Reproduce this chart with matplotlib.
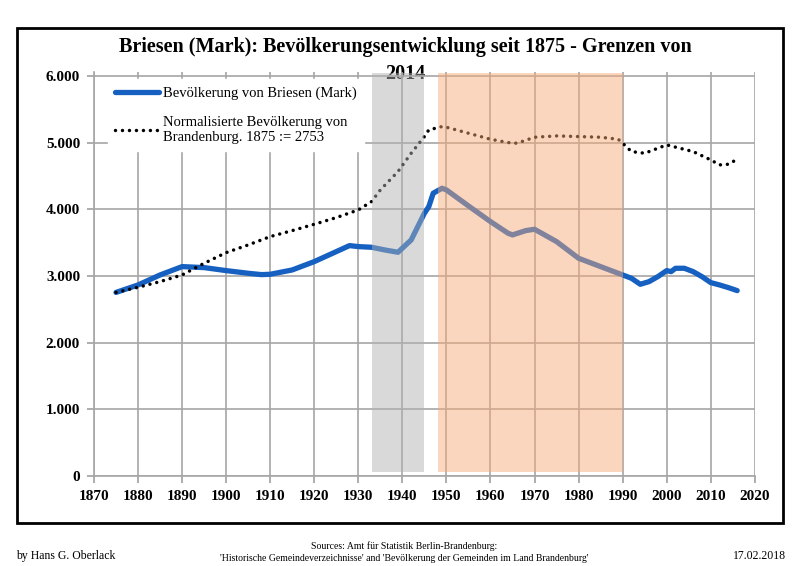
import matplotlib
matplotlib.use('Agg')
import matplotlib.pyplot as plt
from matplotlib.patches import Rectangle

plt.rcParams['font.family'] = ['Liberation Serif', 'DejaVu Serif']

# population of Briesen (Mark)
years_briesen = [1875, 1880, 1885, 1890, 1895, 1900, 1905, 1908, 1910, 1915, 1920, 1925,
                 1928, 1930, 1933, 1936, 1939, 1942, 1945, 1946, 1947, 1949, 1950, 1955,
                 1960, 1964, 1965, 1968, 1970, 1975, 1980, 1985, 1990, 1992, 1994, 1996,
                 1998, 2000, 2001, 2002, 2004, 2006, 2008, 2010, 2012, 2014, 2016]
pop_briesen = [2753, 2865, 3015, 3140, 3125, 3080, 3040, 3020, 3025, 3090, 3215, 3365,
               3455, 3440, 3430, 3390, 3355, 3540, 3940, 4040, 4240, 4315, 4290, 4050,
               3815, 3640, 3615, 3680, 3700, 3515, 3265, 3140, 3015, 2965, 2875, 2915,
               2990, 3080, 3065, 3115, 3115, 3065, 2990, 2900, 2865, 2825, 2780]

# normalised population of Brandenburg (1875 := 2753)
years_bb = [1875, 1880, 1885, 1890, 1895, 1900, 1905, 1910, 1915, 1920, 1925, 1930,
            1933, 1935, 1939, 1942, 1945, 1946, 1949, 1950, 1955, 1960, 1964, 1966,
            1970, 1975, 1980, 1985, 1989, 1990, 1992, 1995, 1997, 2000, 2003, 2006,
            2010, 2012, 2014, 2016]
pop_bb = [2753, 2830, 2915, 3015, 3190, 3350, 3465, 3590, 3680, 3775, 3875, 3990,
          4115, 4290, 4565, 4840, 5090, 5190, 5240, 5230, 5140, 5050, 5000, 4990,
          5080, 5100, 5090, 5080, 5050, 4990, 4865, 4840, 4890, 4965, 4915, 4865,
          4740, 4665, 4675, 4750]

yticks = [0, 1000, 2000, 3000, 4000, 5000, 6000]
ytick_labels = ['0', '1.000', '2.000', '3.000', '4.000', '5.000', '6.000']
xticks = list(range(1870, 2021, 10))

fig = plt.figure(figsize=(8, 5.66), dpi=100)
ax = fig.add_axes([0.1175, 0.159, 0.826, 0.714])
ax.patch.set_visible(False)

ax.plot(years_briesen, pop_briesen, color='#1560c0', lw=3.8,
        solid_capstyle='round', zorder=2, label='Bevölkerung von Briesen (Mark)')
ax.plot(years_bb, pop_bb, color='black', lw=2.5, linestyle=(0, (0.01, 2.0)),
        dash_capstyle='round', zorder=2,
        label='Normalisierte Bevölkerung von\nBrandenburg. 1875 := 2753')

# shaded periods drawn over the lines
ax.axvspan(1933, 1945, ymin=0.01, ymax=0.997, color='#b1b1b1', alpha=0.48,
           lw=0, zorder=3)
ax.axvspan(1948, 1990, ymin=0.01, ymax=0.997, color='#f8ab77', alpha=0.48,
           lw=0, zorder=3)

ax.set_xlim(1870, 2020)
ax.set_ylim(0, 6060)
ax.set_xticks(xticks)
ax.set_xticklabels([str(x) for x in xticks], fontsize=11, fontweight='bold')
ax.set_yticks(yticks)
ax.set_yticklabels(ytick_labels, fontsize=11, fontweight='bold')
ax.tick_params(length=5, color='#a0a0a0', width=1.2, pad=5)
ax.grid(True, color='#a6a6a6', lw=1.2)
ax.set_axisbelow(True)
for side in ['top', 'right']:
    ax.spines[side].set_visible(False)
for side in ['left', 'bottom']:
    ax.spines[side].set_color('#a6a6a6')
    ax.spines[side].set_linewidth(1.2)

leg = ax.legend(loc='upper left', bbox_to_anchor=(0.01, 1.0), fontsize=10.5,
                frameon=True, fancybox=False, edgecolor='white', framealpha=1,
                handlelength=3.0, handletextpad=0.3, labelspacing=1.1,
                borderpad=0.5)
leg.set_zorder(5)

fig.text(0.507, 0.893, 'Briesen (Mark): Bevölkerungsentwicklung seit 1875 - Grenzen von\n2014',
         ha='center', va='center', fontsize=14.5, fontweight='bold',
         linespacing=1.45, zorder=-1)

fig.patches.append(Rectangle((0.021, 0.076), 0.958, 0.874, transform=fig.transFigure,
                             fill=False, edgecolor='black', lw=2))

fig.text(0.02, 0.018, 'by Hans G. Oberlack', ha='left', va='center', fontsize=8.5)
fig.text(0.505, 0.024, "Sources: Amt für Statistik Berlin-Brandenburg:\n"
         "'Historische Gemeindeverzeichnisse' and 'Bevölkerung der Gemeinden im Land Brandenburg'",
         ha='center', va='center', fontsize=7, linespacing=1.4)
fig.text(0.982, 0.018, '17.02.2018', ha='right', va='center', fontsize=8.5)

fig.savefig('out.png', dpi=100)
